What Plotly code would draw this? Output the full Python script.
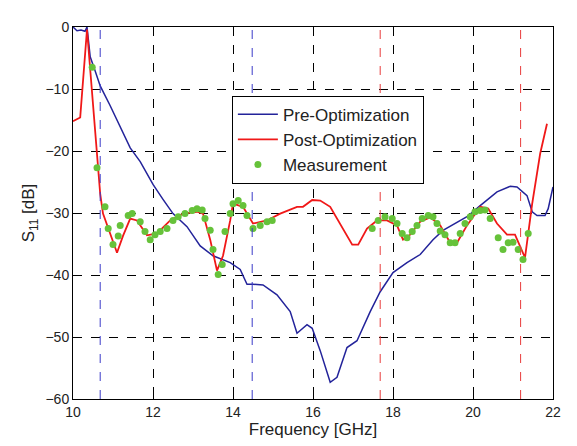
import plotly.graph_objects as go

# Pre-Optimization (blue)
pre_f = [10.0, 10.1, 10.2, 10.3, 10.35, 10.43, 10.55, 10.68, 10.93, 11.2, 11.43, 11.68, 12.0, 12.25, 12.5,
         12.85, 13.18, 13.5, 13.93, 14.18, 14.35, 14.5, 14.75, 15.1, 15.43, 15.6, 15.85, 15.98, 16.18,
         16.43, 16.6, 16.85, 17.1, 17.43, 17.68, 18.0, 18.35, 18.68, 19.0, 19.25, 19.85, 20.18, 20.6,
         20.93, 21.1, 21.35, 21.48, 21.6, 21.8, 21.88, 22.0]
pre_s = [0.0, -0.6, -0.5, -0.7, 0.0, -4.8, -7.0, -9.5, -12.7, -16.3, -19.5, -21.7, -25.4, -27.8, -30.1,
         -32.2, -35.3, -36.9, -38.0, -39.1, -41.5, -41.5, -41.6, -43.2, -45.9, -49.4, -48.0, -48.6, -52.2,
         -57.3, -56.5, -51.7, -50.6, -45.9, -42.7, -39.6, -38.0, -36.7, -34.3, -32.8, -30.6, -28.8, -26.6,
         -25.7, -25.8, -27.2, -29.8, -30.4, -30.4, -29.3, -25.8]

# Post-Optimization (red)
post_f = [10.0, 10.18, 10.35, 10.6, 10.68, 10.75, 10.93, 11.1, 11.25, 11.43, 11.6, 11.85, 12.1, 12.43,
          12.75, 13.1, 13.25, 13.43, 13.6, 13.75, 13.93, 14.0, 14.25, 14.5, 14.85, 15.18, 15.6, 15.75,
          15.98, 16.18, 16.43, 16.68, 16.98, 17.13, 17.35, 17.6, 17.85, 18.1, 18.25, 18.43, 18.68, 18.93,
          19.18, 19.43, 19.6, 19.85, 20.18, 20.38, 20.6, 20.85, 21.05, 21.3, 21.48, 21.68, 21.85]
post_s = [-15.2, -14.6, -0.4, -21.5, -26.9, -30.1, -33.3, -36.4, -33.7, -30.9, -31.2, -33.6, -33.3, -31.2,
          -30.1, -29.8, -30.1, -34.3, -39.3, -36.9, -31.2, -28.5, -29.0, -31.7, -31.2, -30.1, -29.0, -29.0,
          -27.9, -28.0, -29.0, -31.7, -35.1, -35.1, -32.5, -31.2, -31.2, -32.0, -34.3, -33.5, -31.4, -30.7,
          -32.0, -34.8, -34.8, -32.0, -29.0, -29.3, -31.7, -33.5, -33.5, -37.2, -28.5, -20.4, -15.6]

# Measurement (green dots)
meas_f = [10.48, 10.6, 10.8, 10.88, 11.0, 11.13, 11.18, 11.38, 11.48, 11.68, 11.8, 11.93, 12.05, 12.18,
          12.35, 12.5, 12.63, 12.8, 12.98, 13.1, 13.23, 13.3, 13.43, 13.5, 13.63, 13.73, 13.8, 13.93,
          14.0, 14.13, 14.25, 14.35, 14.5, 14.68, 14.85, 14.98,
          17.48, 17.63, 17.8, 17.98, 18.1, 18.23, 18.35, 18.48, 18.6, 18.73, 18.88, 19.0, 19.1, 19.18,
          19.3, 19.43, 19.55, 19.68, 19.8, 19.93, 20.05, 20.18, 20.3, 20.43, 20.63, 20.75, 20.88, 21.0,
          21.13, 21.25, 21.38]
meas_s = [-6.5, -22.7, -29.0, -32.5, -35.1, -33.7, -32.0, -30.4, -30.1, -31.4, -33.0, -34.3, -33.5, -33.0,
          -32.5, -31.2, -30.6, -30.1, -29.6, -29.3, -29.5, -30.9, -32.8, -35.9, -39.9, -38.3, -33.0, -30.1,
          -28.5, -28.0, -28.8, -30.4, -32.5, -32.0, -31.4, -31.2,
          -32.5, -31.2, -30.6, -30.9, -31.7, -33.3, -34.0, -33.0, -32.0, -30.9, -30.4, -30.6, -31.7, -32.9,
          -33.5, -34.8, -34.8, -33.3, -31.7, -30.6, -29.8, -29.6, -29.5, -30.9, -34.0, -35.9, -34.8, -34.7,
          -35.9, -37.5, -33.3]

# band markers
blue_marks = [10.68, 14.48]
red_marks = [17.68, 21.19]

fig = go.Figure()
fig.add_trace(go.Scatter(x=pre_f, y=pre_s, mode='lines', name='Pre-Optimization',
                         line=dict(color='#23239a', width=1.5)))
fig.add_trace(go.Scatter(x=post_f, y=post_s, mode='lines', name='Post-Optimization',
                         line=dict(color='#f01818', width=1.8)))
fig.add_trace(go.Scatter(x=meas_f, y=meas_s, mode='markers', name='Measurement',
                         marker=dict(color='#66c23a', size=7)))

for xv in blue_marks:
    fig.add_vline(x=xv, line=dict(color='#3a3ac8', width=1, dash='dash'))
for xv in red_marks:
    fig.add_vline(x=xv, line=dict(color='#e83c3c', width=1, dash='dash'))

axis_common = dict(showline=True, linecolor='black', linewidth=1, mirror=True,
                   showgrid=True, gridcolor='black', griddash='dash', gridwidth=1,
                   ticks='inside', ticklen=4, tickcolor='black', zeroline=False,
                   tickfont=dict(size=14, color='#222'))

# page body has an 8px margin, so the figure is trimmed by that much
fig.update_layout(
    width=569, height=438,
    margin=dict(l=65, r=24, t=11, b=47),
    paper_bgcolor='white', plot_bgcolor='white',
    font=dict(family='Liberation Sans, Arial, sans-serif', size=14, color='#222'),
    xaxis=dict(range=[10, 22], dtick=2, title=dict(text='Frequency [GHz]', standoff=2), **axis_common),
    yaxis=dict(range=[-60, 0], dtick=10, title=dict(text='S<sub>11</sub> [dB]', standoff=6), **axis_common),
    legend=dict(x=0.331, y=0.815, xanchor='left', yanchor='top', bgcolor='white',
                bordercolor='black', borderwidth=1, font=dict(size=17, color='#222'),
                tracegroupgap=0, itemwidth=40),
)

fig.write_html("out.html")
